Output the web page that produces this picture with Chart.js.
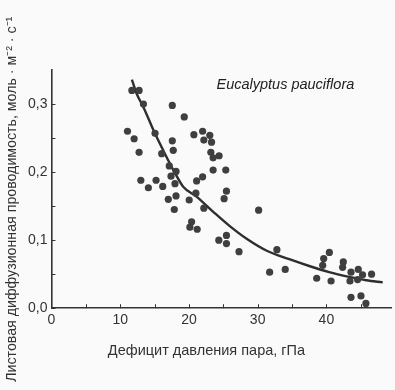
<!DOCTYPE html>
<html><head><meta charset="utf-8">
<script src="https://cdn.jsdelivr.net/npm/chart.js@4"></script>
<style>html,body{margin:0;padding:0;background:#fafafa}#wrap{width:395px;height:390px}</style>
</head><body><div id="wrap"><canvas id="c" width="395" height="390"></canvas></div>
<script>
// Measured points: vapour pressure deficit (hPa) and leaf conductance (mol m-2 s-1)
const vpd = [11.06,11.70,12.75,12.03,12.75,13.38,13.00,14.10,15.07,15.22,16.04,16.19,17.00,17.14,17.39,17.58,17.58,17.72,17.87,17.97,18.12,18.12,19.32,20.04,20.14,20.39,20.72,21.01,21.12,21.20,21.99,21.99,22.17,22.17,23.04,23.29,23.19,23.52,24.39,23.52,25.36,25.12,25.46,25.46,24.35,25.46,27.29,30.14,32.80,31.74,34.01,40.43,39.61,39.46,38.59,40.68,42.46,42.36,43.58,44.64,45.26,46.57,44.54,43.43,43.58,45.03,45.75];
const conductance = [0.260,0.320,0.320,0.249,0.229,0.300,0.188,0.177,0.257,0.188,0.227,0.179,0.160,0.209,0.194,0.298,0.246,0.232,0.145,0.183,0.201,0.165,0.281,0.159,0.119,0.127,0.255,0.169,0.187,0.116,0.260,0.193,0.247,0.147,0.254,0.244,0.229,0.221,0.224,0.203,0.203,0.161,0.172,0.107,0.100,0.095,0.083,0.144,0.086,0.053,0.057,0.082,0.073,0.063,0.044,0.040,0.068,0.060,0.053,0.057,0.049,0.050,0.042,0.040,0.016,0.018,0.007];
// Fitted curve
const curveX = [11.7,12.4,13.4,15.0,16.5,18.0,19.2,21.1,23.5,25.9,28.4,31.4,34.6,37.5,40.4,43.3,45.8,48.2];
const curveY = [0.336,0.315,0.295,0.258,0.227,0.198,0.178,0.164,0.142,0.121,0.102,0.084,0.072,0.062,0.053,0.046,0.041,0.038];
const xTicks = [0,10,20,30,40];
const yTicks = [0,0.1,0.2,0.3];
const xMinor = [0,5,10,15,20,25,30,35,40,45];
const yMinor = [0,0.05,0.1,0.15,0.2,0.25,0.3];
const xTitle = 'Дефицит давления пара, гПа';
const yTitle = 'Листовая диффузионная проводимость, моль · м⁻² · с⁻¹';
const speciesLabel = 'Eucalyptus pauciflora';

const ink = '#333333';
const FONT = '"Liberation Sans", Arial, sans-serif';

const extras = {
  id: 'extras',
  afterDatasetsDraw(chart) {
    const {ctx, scales:{x, y}} = chart;
    ctx.save();
    ctx.strokeStyle = ink; ctx.lineWidth = 1;
    xMinor.forEach(v => { const px = Math.round(x.getPixelForValue(v)) + 0.5;
      ctx.beginPath(); ctx.moveTo(px, y.bottom); ctx.lineTo(px, y.bottom - 4); ctx.stroke(); });
    yMinor.forEach(v => { const py = Math.round(y.getPixelForValue(v)) + 0.5;
      ctx.beginPath(); ctx.moveTo(x.left, py); ctx.lineTo(x.left + 4, py); ctx.stroke(); });
    ctx.fillStyle = '#222';
    ctx.textBaseline = 'middle';
    ctx.textAlign = 'left';
    ctx.font = 'italic 14.5px ' + FONT;
    ctx.fillText(speciesLabel, x.left + 165, y.top + 15);
    // axis titles
    ctx.fillStyle = ink;
    ctx.font = '14.5px ' + FONT;
    ctx.textAlign = 'center';
    ctx.fillText(xTitle, x.left + 155, y.bottom + 43);
    ctx.font = '14.2px ' + FONT;
    ctx.translate(12, y.bottom - 109);
    ctx.rotate(-Math.PI / 2);
    ctx.fillText(yTitle, 0, 0);
    ctx.restore();
  }
};

new Chart(document.getElementById('c'), {
  type: 'scatter',
  data: {
    datasets: [
      { data: vpd.map((v,i)=>({x:v, y:conductance[i]})), backgroundColor: '#3f3f3f', borderWidth: 0, pointRadius: 3.6 },
      { type: 'line', data: curveX.map((v,i)=>({x:v, y:curveY[i]})), showLine: true, borderColor: '#2e2e2e', borderWidth: 2.4, pointRadius: 0, fill: false, cubicInterpolationMode: 'monotone' }
    ]
  },
  options: {
    responsive: false, animation: false, devicePixelRatio: 1,
    layout: { padding: { left: 24, right: 3, top: 70, bottom: 57 } },
    plugins: { legend: { display: false }, tooltip: { enabled: false } },
    scales: {
      x: {
        type: 'linear', min: 0, max: 49.4,
        afterBuildTicks: s => { s.ticks = xTicks.map(v => ({value: v})); },
        grid: { display: false, drawTicks: false },
        border: { display: true, color: ink, width: 1.6 },
        ticks: { color: ink, font: { family: FONT, size: 14 }, padding: 4, maxRotation: 0, autoSkip: false }
      },
      y: {
        type: 'linear', min: 0, max: 0.35,
        afterBuildTicks: s => { s.ticks = yTicks.map(v => ({value: v})); },
        grid: { display: false, drawTicks: false },
        border: { display: true, color: ink, width: 1.6 },
        ticks: { color: ink, font: { family: FONT, size: 14 }, padding: 4, autoSkip: false,
          callback: v => v.toFixed(1).replace('.', ',') }
      }
    }
  },
  plugins: [extras]
});
</script></body></html>
